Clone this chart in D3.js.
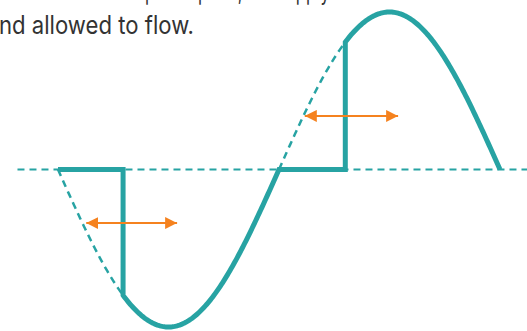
<!DOCTYPE html>
<html>
<head>
<meta charset="utf-8">
<script src="https://cdn.jsdelivr.net/npm/d3@7"></script>
<style>
  body { margin: 0; background: #fff; }
  svg { display: block; }
</style>
</head>
<body>
<div id="chart"></div>
<script>
// caption lines (top one is cut off by the frame)
const captionLines = ["ected at a chosen phase point, the supply is then connected to the load a", "nd allowed to flow."];

// one full mains cycle in degrees, wave drawn as -sin so it dips first
const cycle = [0, 360];
const baselineSpan = [-33, 382];
const firingAngles = [53, 234];      // where the switch turns on in each half cycle
const halfStarts = [0, 180];
const arrowSpans = [[23, 97], [201, 277]];
const arrowLevels = [-0.34, 0.34];

const width = 527, height = 331;
const teal = "#27a3a3", orange = "#f5821f";

const svg = d3.select("#chart").append("svg")
  .attr("width", width)
  .attr("height", height);

const xScale = d3.scaleLinear().domain(cycle).range([58, 500]);
const yScale = d3.scaleLinear().domain([-1, 1]).range([327, 12]);

const wave = function(a) { return -Math.sin(a * Math.PI / 180); };

// text
svg.selectAll("text.caption")
  .data(captionLines)
  .enter()
  .append("text")
    .attr("class", "caption")
    .attr("x", -1)
    .attr("y", function(d, i) { return 0 + i * 34; })
    .attr("font-family", "Inter, 'Noto Sans', sans-serif")
    .attr("font-size", 25)
    .attr("fill", "#333")
    .attr("textLength", function(d, i) { return i == 1 ? 195 : 580; })
    .attr("lengthAdjust", "spacingAndGlyphs")
    .text(function(d) { return d; });

// dashed zero line
svg.append("line")
  .attr("x1", xScale(baselineSpan[0]))
  .attr("x2", xScale(baselineSpan[1]))
  .attr("y1", yScale(0))
  .attr("y2", yScale(0))
  .attr("stroke", teal)
  .attr("stroke-width", 2.2)
  .attr("stroke-dasharray", "7,5");

const line = d3.line()
  .x(function(d) { return xScale(d[0]); })
  .y(function(d) { return yScale(d[1]); });

// dashed part of the sine that is chopped off
halfStarts.forEach(function(s, i) {
  let pts = d3.range(s, firingAngles[i] + 0.5, 1).map(function(a) { return [a, wave(a)]; });
  svg.append("path")
    .attr("d", line(pts))
    .attr("fill", "none")
    .attr("stroke", teal)
    .attr("stroke-width", 2.5)
    .attr("stroke-dasharray", "7,5");
});

// solid output waveform
let solid = [];
halfStarts.forEach(function(s, i) {
  let f = firingAngles[i];
  solid.push([s, 0]);
  solid.push([f, 0]);
  d3.range(f, s + 180, 1).forEach(function(a) { solid.push([a, wave(a)]); });
  solid.push([s + 180, 0]);
});

svg.append("path")
  .attr("d", line(solid))
  .attr("fill", "none")
  .attr("stroke", teal)
  .attr("stroke-width", 5)
  .attr("stroke-linejoin", "miter");

// orange double arrows
const defs = svg.append("defs");
defs.append("marker")
  .attr("id", "head")
  .attr("viewBox", "0 0 10 10")
  .attr("refX", 10).attr("refY", 5)
  .attr("markerUnits", "userSpaceOnUse")
  .attr("markerWidth", 12).attr("markerHeight", 12)
  .attr("orient", "auto-start-reverse")
  .append("path")
    .attr("d", "M0,0L10,5L0,10Z")
    .attr("fill", orange);

svg.selectAll("line.arrow")
  .data(arrowSpans)
  .enter()
  .append("line")
    .attr("class", "arrow")
    .attr("x1", function(d) { return xScale(d[0]); })
    .attr("x2", function(d) { return xScale(d[1]); })
    .attr("y1", function(d, i) { return yScale(arrowLevels[i]); })
    .attr("y2", function(d, i) { return yScale(arrowLevels[i]); })
    .attr("stroke", orange)
    .attr("stroke-width", 2)
    .attr("marker-start", "url(#head)")
    .attr("marker-end", "url(#head)");
</script>
</body>
</html>
